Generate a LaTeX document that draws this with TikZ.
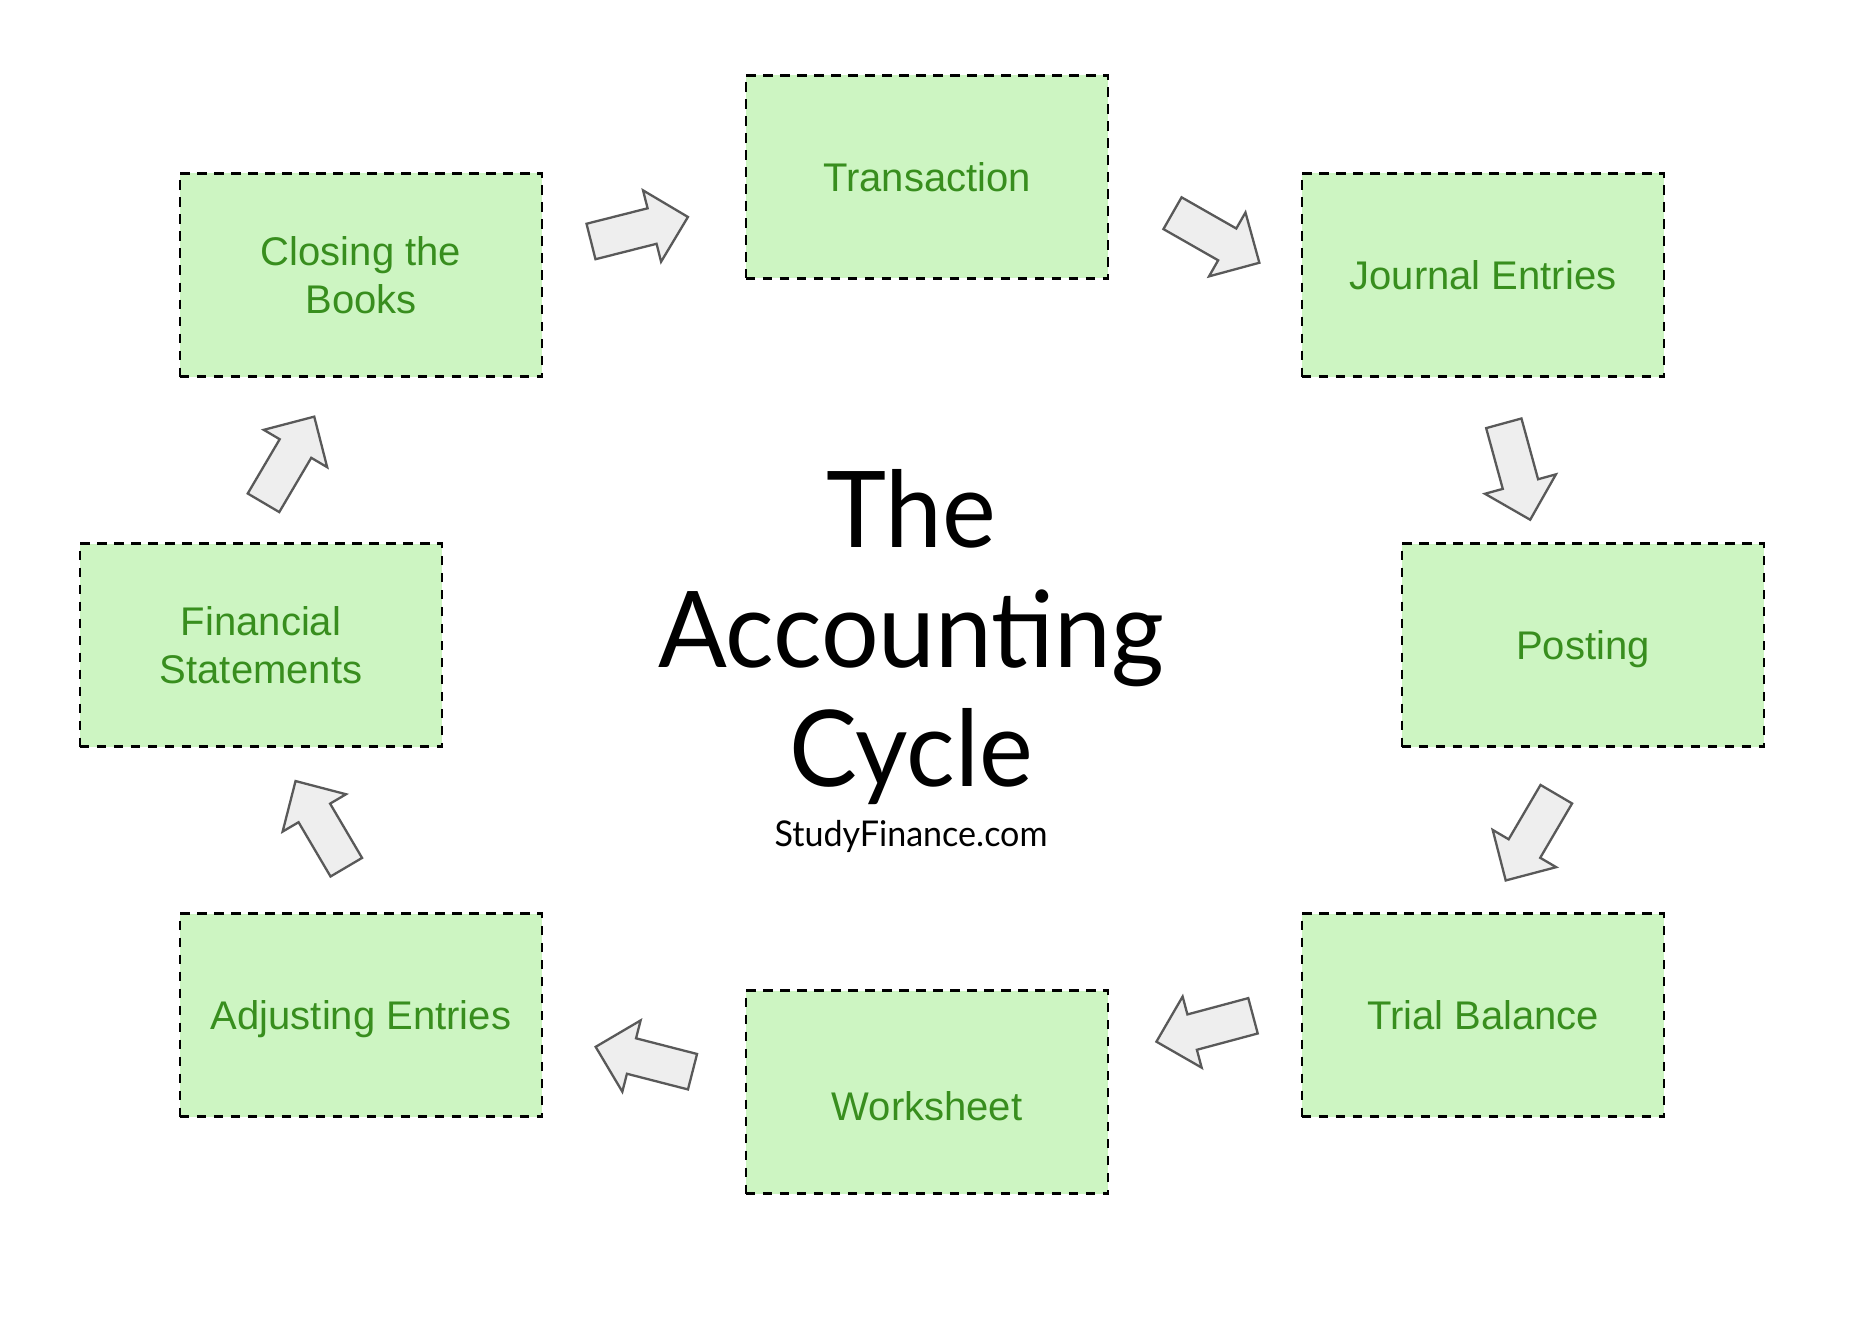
\documentclass[tikz,border=0pt]{standalone}
\usepackage{fontspec}
\setmainfont{Liberation Sans}
\newfontfamily\latofont[FakeStretch=0.96]{Lato}
\definecolor{boxfill}{RGB}{205,245,194}
\definecolor{boxtext}{RGB}{56,142,30}
\definecolor{arrfill}{RGB}{238,238,238}
\definecolor{arrline}{RGB}{89,89,89}
\tikzset{
  stepbox/.style={draw=black, line width=2.4pt, dash pattern=on 9.5pt off 7.5pt,
    fill=boxfill, minimum width=362.5pt, minimum height=203pt, inner sep=0pt,
    text=boxtext, font=\fontsize{40}{48}\selectfont, align=center},
  oneline/.style={text height=28.6pt, text depth=0pt},
  boxlabel/.style={text=boxtext, font=\fontsize{40}{48}\selectfont, inner sep=0pt,
    text height=28.6pt, text depth=0pt},
  arrowshape/.style={draw=arrline, fill=arrfill, line width=2.3pt},
  blockarrow/.pic={\path[arrowshape] (0,-18.3)--(63,-18.3)--(63,-36.8)--(100,0)
    --(63,36.8)--(63,18.3)--(0,18.3)--cycle;},
  titletext/.style={font=\latofont\fontsize{106}{120}\selectfont, inner sep=0pt, anchor=base},
  sitetext/.style={font=\latofont\fontsize{35.5}{40}\selectfont, inner sep=0pt, anchor=base},
}
\begin{document}
\begin{tikzpicture}[x=1pt, y=-1pt]
  \fill[white] (0,0) rectangle (1868,1324);
  \useasboundingbox (0,0) rectangle (1868,1324);

  % steps
  \node[stepbox, oneline] (trans) at (927,177) {Transaction};
  \node[stepbox, oneline] (journal) at (1483,275) {Journal Entries};
  \node[stepbox, oneline] (posting) at (1583,645) {Posting};
  \node[stepbox, oneline] (trial) at (1483,1015) {Trial Balance};
  \node[stepbox] (work) at (927,1092) {};
  \node[boxlabel] (worklabel) at ([yshift=-14pt]work.center) {Worksheet};
  \node[stepbox, oneline] (adjust) at (361,1015) {Adjusting Entries};
  \node[stepbox] (fin) at (261,645) {Financial\\Statements};
  \node[stepbox] (closing) at (361,275) {Closing the\\Books};

  % block arrows
  \pic[rotate=14.2]   at (591,241.5)   {blockarrow};
  \pic[rotate=-29.7]  at (1172.5,213.2) {blockarrow};
  \pic[rotate=-74.7]  at (1503.8,423.3) {blockarrow};
  \pic[rotate=-120.4] at (1556.3,794.2) {blockarrow};
  \pic[rotate=-165]   at (1253,1015.8)  {blockarrow};
  \pic[rotate=-194.4] at (692.5,1071.7) {blockarrow};
  \pic[rotate=-239.5] at (346.3,867.2)  {blockarrow};
  \pic[rotate=59.5]   at (263.5,502.8)  {blockarrow};

  % title
  \node[titletext] (title1) at (911,547) {The};
  \node[titletext] (title2) at (911,667) {Accounting};
  \node[titletext] (title3) at (911,786) {Cycle};
  \node[sitetext] (site) at (911,846) {StudyFinance.com};
\end{tikzpicture}
\end{document}
